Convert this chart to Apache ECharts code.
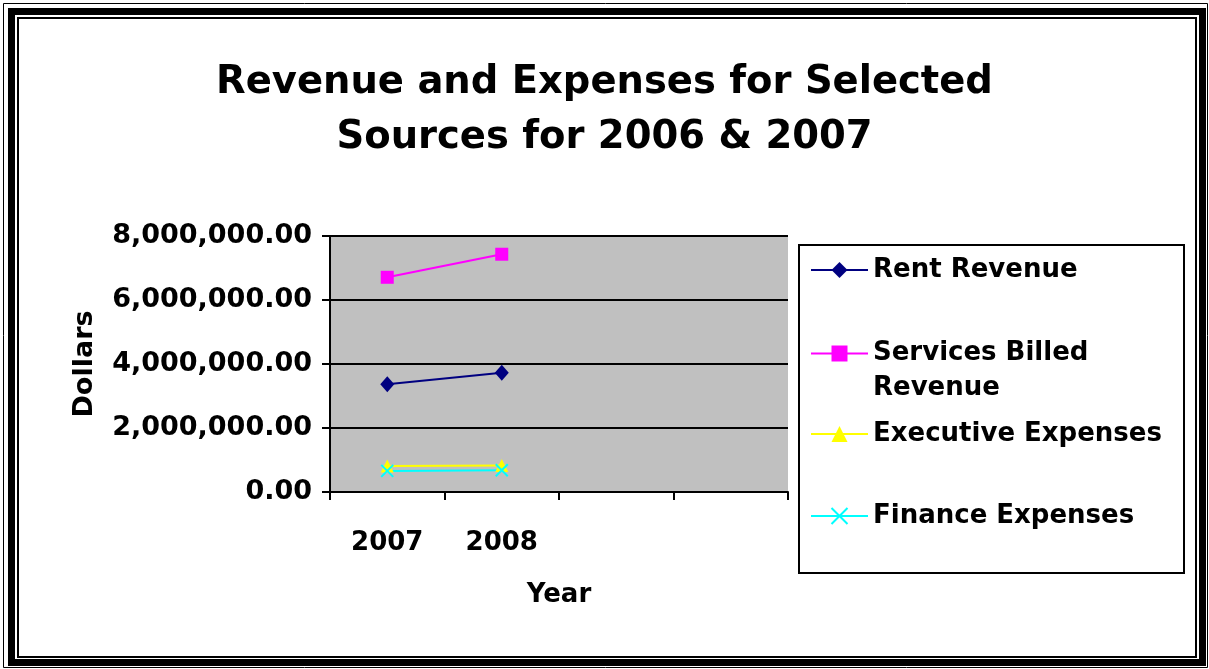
<!DOCTYPE html>
<html>
<head>
<meta charset="utf-8">
<script src="https://cdn.jsdelivr.net/npm/echarts@6/dist/echarts.min.js"></script>
<style>
html,body{margin:0;padding:0;background:#fff;}
#chart{width:1209px;height:669px;}
</style>
</head>
<body>
<div id="chart"></div>
<script>
const categories = ['2007', '2008', '', ''];
const rentRevenue = [3370000, 3730000];
const servicesBilledRevenue = [6710000, 7430000];
const executiveExpenses = [810000, 830000];
const financeExpenses = [660000, 680000];
const yTicks = { min: 0, max: 8000000, interval: 2000000 };

const FONT = '"DejaVu Sans", "Liberation Sans", Arial, sans-serif';
const chart = echarts.init(document.getElementById('chart'));

const crossPath = 'path://M0,0L10,10M10,0L0,10';

function legendFor(name, top, extra) {
  return Object.assign({
    data: [name],
    left: 810,
    top: top,
    orient: 'vertical',
    padding: 0,
    itemWidth: 57,
    itemHeight: 20,
    selectedMode: false,
    lineStyle: { width: 2 },
    textStyle: { fontFamily: FONT, fontWeight: 'bold', fontSize: 26, color: '#000', lineHeight: 30 }
  }, extra || {});
}

const option = {
  backgroundColor: '#fff',
  animation: false,
  title: {
    text: 'Revenue and Expenses for Selected\nSources for 2006 & 2007',
    left: 'center',
    top: 50,
    textStyle: { fontFamily: FONT, fontWeight: 'bold', fontSize: 38.5, lineHeight: 55, color: '#000' }
  },
  legend: [
    legendFor('Rent Revenue', 255),
    legendFor('Services Billed Revenue', 301, {
      formatter: function () { return ' \nServices Billed\nRevenue'; },
      textStyle: { fontFamily: FONT, fontWeight: 'bold', fontSize: 26, color: '#000', lineHeight: 35 }
    }),
    legendFor('Executive Expenses', 419),
    legendFor('Finance Expenses', 501)
  ],
  grid: {
    left: 330, right: 421, top: 236, bottom: 177,
    show: true, backgroundColor: '#C0C0C0', borderWidth: 0
  },
  xAxis: {
    type: 'category',
    data: categories,
    boundaryGap: true,
    name: 'Year',
    nameLocation: 'middle',
    nameGap: 90,
    nameTextStyle: { fontFamily: FONT, fontWeight: 'bold', fontSize: 26, color: '#000' },
    axisLine: { lineStyle: { color: '#000', width: 2 } },
    axisTick: { show: true, length: 8, inside: false, alignWithLabel: false, lineStyle: { color: '#000', width: 2 } },
    axisLabel: { fontFamily: FONT, fontWeight: 'bold', fontSize: 26, color: '#000', margin: 38, interval: 0 },
    splitLine: { show: false }
  },
  yAxis: {
    type: 'value',
    min: yTicks.min, max: yTicks.max, interval: yTicks.interval,
    name: 'Dollars',
    nameLocation: 'middle',
    nameGap: 232,
    nameRotate: 90,
    nameTextStyle: { fontFamily: FONT, fontWeight: 'bold', fontSize: 27, color: '#000' },
    axisLine: { show: true, lineStyle: { color: '#000', width: 2 } },
    axisTick: { show: true, length: 8, lineStyle: { color: '#000', width: 2 } },
    axisLabel: {
      fontFamily: FONT, fontWeight: 'bold', fontSize: 27, color: '#000', margin: 18,
      formatter: function (v) { return v.toLocaleString('en-US', { minimumFractionDigits: 2, maximumFractionDigits: 2 }); }
    },
    splitLine: { show: true, lineStyle: { color: '#000', width: 2 } }
  },
  series: [
    {
      name: 'Rent Revenue', type: 'line', data: rentRevenue,
      symbol: 'diamond', symbolSize: [14, 16],
      lineStyle: { color: '#000080', width: 2 },
      itemStyle: { color: '#000080' }
    },
    {
      name: 'Services Billed Revenue', type: 'line', data: servicesBilledRevenue,
      symbol: 'rect', symbolSize: 13,
      lineStyle: { color: '#FF00FF', width: 2 },
      itemStyle: { color: '#FF00FF' }
    },
    {
      name: 'Executive Expenses', type: 'line', data: executiveExpenses,
      symbol: 'triangle', symbolSize: 13,
      lineStyle: { color: '#FFFF00', width: 2 },
      itemStyle: { color: '#FFFF00' }
    },
    {
      name: 'Finance Expenses', type: 'line', data: financeExpenses,
      symbol: crossPath, symbolSize: 12,
      lineStyle: { color: '#00FFFF', width: 2 },
      itemStyle: { color: 'rgba(0,0,0,0)', borderColor: '#00FFFF', borderWidth: 2 }
    }
  ],
  graphic: [
    { type: 'rect', silent: true, shape: { x: 3.5, y: 3.5, width: 1204, height: 664 }, style: { fill: null, stroke: '#000', lineWidth: 1 } },
    { type: 'rect', silent: true, shape: { x: 11.5, y: 11.5, width: 1191, height: 651 }, style: { fill: null, stroke: '#000', lineWidth: 7 } },
    { type: 'rect', silent: true, shape: { x: 18, y: 18, width: 1178, height: 639 }, style: { fill: null, stroke: '#000', lineWidth: 2 } },
    { type: 'rect', silent: true, z: -1, shape: { x: 799, y: 245, width: 385, height: 328 }, style: { fill: '#fff', stroke: '#000', lineWidth: 2 } }
  ]
};
chart.setOption(option);
</script>
</body>
</html>
